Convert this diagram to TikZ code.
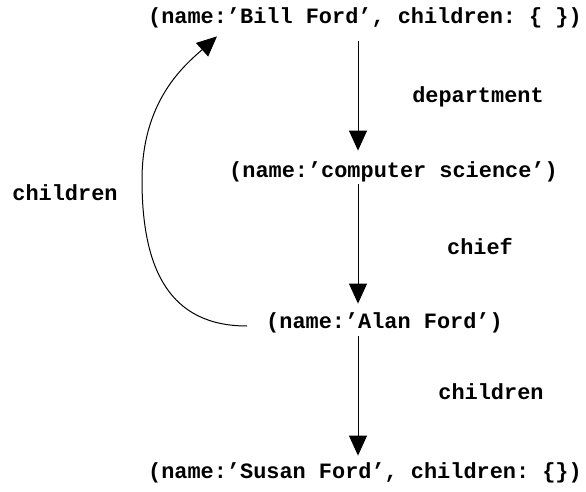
\documentclass[tikz,border=0pt]{standalone}
\usepackage{fontspec}
\setmonofont{Liberation Mono}
\usetikzlibrary{arrows.meta}

\begin{document}
\begin{tikzpicture}[x=1pt,y=-1pt,
  rec/.style={font=\fontsize{21.9}{24}\selectfont\ttfamily\bfseries, inner sep=2pt},
  lbl/.style={font=\fontsize{21.9}{24}\selectfont\ttfamily\bfseries},
  link/.style={-{Triangle[length=20pt,width=18pt]}, line width=1pt}]
  \useasboundingbox (0,0) rectangle (586,492);

  % records
  \node[rec] (bill) at (365,18) {(name:’Bill Ford’, children: \{ \})};
  \node[rec] (cs) at (393.5,172) {(name:’computer science’)};
  \node[rec] (alan) at (384.5,323) {(name:’Alan Ford’)};
  \node[rec] (susan) at (365,473) {(name:’Susan Ford’, children: \{\})};

  % vertical links
  \coordinate (axis) at (358,0);
  \draw[link, shorten <=11pt, shorten >=9pt] (bill.south -| axis) -- (cs.north -| axis);
  \draw[link, shorten >=7pt] (cs.south -| axis) -- (alan.north -| axis);
  \draw[link, shorten <=1pt, shorten >=5pt] (alan.south -| axis) -- (susan.north -| axis);

  % back link
  \draw[link] ([xshift=-17pt,yshift=-3pt]alan.west)
    .. controls (170,326) and (142,270) .. (142,180)
    .. controls (142,100) and (185,65) .. ([xshift=71pt,yshift=-6pt]bill.south west);

  % labels
  \node[lbl] (ldept) at (478,97) {department};
  \node[lbl] (lchief) at (480,247) {chief};
  \node[lbl] (lchild) at (491,392) {children};
  \node[lbl] (lback) at (65,193) {children};
\end{tikzpicture}
\end{document}
